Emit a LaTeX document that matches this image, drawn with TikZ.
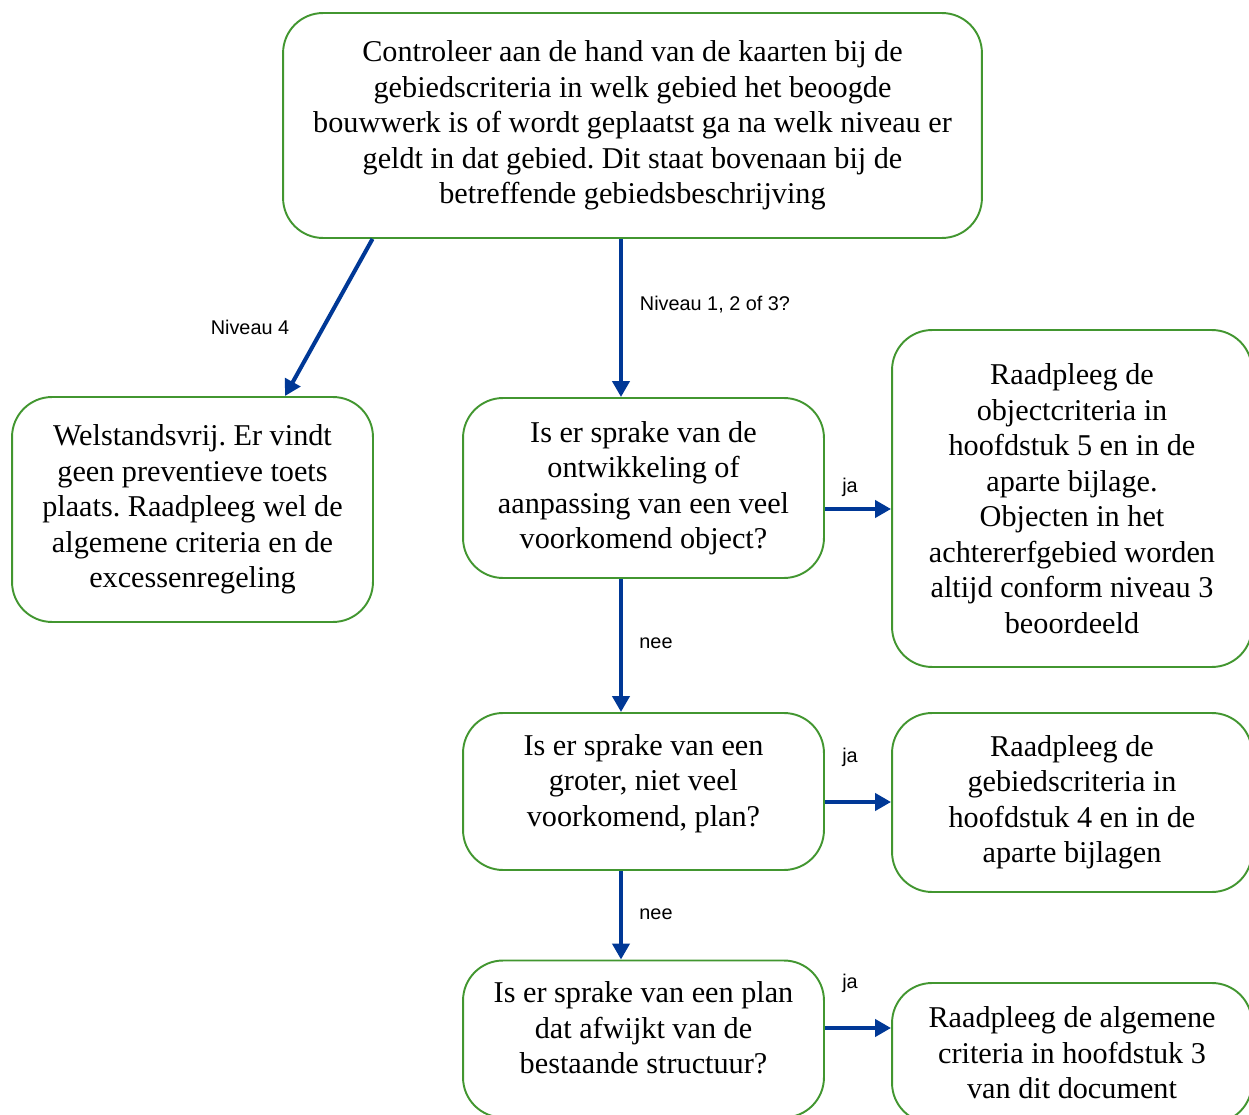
\documentclass[tikz,border=0pt]{standalone}
\usepackage{fontspec}
\setmainfont{Liberation Serif}
\newfontfamily\labelfont{Liberation Sans}
\usetikzlibrary{calc,arrows.meta}
\frenchspacing
\definecolor{kadergroen}{RGB}{66,150,48}
\definecolor{pijlblauw}{RGB}{0,56,150}
\tikzset{
	kader/.style={draw=kadergroen, line width=1.1pt, rounded corners=0.8cm, align=center,
		font=\fontsize{17.2}{20.2}\selectfont, inner sep=0pt},
	hoger/.style={text depth=13pt},
	pijl/.style={draw=pijlblauw, line width=2.3pt, -{Triangle[length=0.32cm,width=0.34cm]}},
	tekst/.style={font=\labelfont\fontsize{11.3}{13}\selectfont, inner sep=0pt}
}

\begin{document}
\begin{tikzpicture}[x=0.02cm, y=-0.02cm]
			%%%%% START %%%%%
			\useasboundingbox (0, 0) rectangle (1249, 1115);
			
			\node[kader, minimum width=13.98cm, minimum height=4.5cm] (controle) at (632.5, 125.5)
				{Controleer aan de hand van de kaarten bij de\\gebiedscriteria in welk gebied het beoogde\\bouwwerk is of wordt geplaatst ga na welk niveau er\\geldt in dat gebied. Dit staat bovenaan bij de\\betreffende gebiedsbeschrijving};
			
			\node[kader, minimum width=7.22cm, minimum height=4.5cm] (welstand) at (192.5, 509.5)
				{Welstandsvrij. Er vindt\\geen preventieve toets\\plaats. Raadpleeg wel de\\algemene criteria en de\\excessenregeling};
			
			\node[kader, minimum width=7.22cm, minimum height=3.6cm] (vraag1) at (643.5, 488)
				{Is er sprake van de\\ontwikkeling of\\aanpassing van een veel\\voorkomend object?};
			\node[kader, minimum width=7.2cm, minimum height=6.74cm] (object) at (1072, 498.5)
				{Raadpleeg de\\objectcriteria in\\hoofdstuk 5 en in de\\aparte bijlage.\\Objecten in het\\achtererfgebied worden\\altijd conform niveau 3\\beoordeeld};
			
			\node[kader, hoger, minimum width=7.22cm, minimum height=3.14cm] (vraag2) at (643.5, 791.5)
				{Is er sprake van een\\groter, niet veel\\voorkomend, plan?};
			\node[kader, minimum width=7.2cm, minimum height=3.58cm] (gebied) at (1072, 802.5)
				{Raadpleeg de\\gebiedscriteria in\\hoofdstuk 4 en in de\\aparte bijlagen};
			
			\node[kader, hoger, minimum width=7.22cm, minimum height=3.14cm] (vraag3) at (643.5, 1039)
				{Is er sprake van een plan\\dat afwijkt van de\\bestaande structuur?};
			\node[kader, minimum width=7.2cm, minimum height=2.8cm] (algemeen) at (1072, 1053)
				{Raadpleeg de algemene\\criteria in hoofdstuk 3\\van dit document};
			
			% pijlen
			\draw[pijl] ($(controle.south)+(-260, 0)$) -- ($(welstand.north)+(92.5, 0)$);
			\draw[pijl] ($(controle.south)+(-11.5, 0)$) -- ($(vraag1.north)+(-22.5, 0)$);
			\draw[pijl] ($(vraag1.east)+(0, 21)$) coordinate (ja1) -- (ja1 -| object.west);
			\draw[pijl] ($(vraag1.south)+(-22.5, 0)$) -- ($(vraag2.north)+(-22.5, 0)$);
			\draw[pijl] ($(vraag2.east)+(0, 10.5)$) coordinate (ja2) -- (ja2 -| gebied.west);
			\draw[pijl] ($(vraag2.south)+(-22.5, 0)$) -- ($(vraag3.north)+(-22.5, 0)$);
			\draw[pijl] ($(vraag3.east)+(0, -11)$) coordinate (ja3) -- (ja3 -| algemeen.west);
			
			% teksten bij de pijlen
			\node[tekst] (niveau4) at (250, 327) {Niveau 4};
			\node[tekst] (niveau123) at (715, 305) {Niveau 1, 2 of 3?};
			\node[tekst] (tekstja1) at (850, 487) {ja};
			\node[tekst] (tekstnee1) at (656, 643) {nee};
			\node[tekst] (tekstja2) at (850, 757) {ja};
			\node[tekst] (tekstnee2) at (656, 914) {nee};
			\node[tekst] (tekstja3) at (850, 983) {ja};
			
			%%%%% END %%%%%
		\end{tikzpicture}
\end{document}
